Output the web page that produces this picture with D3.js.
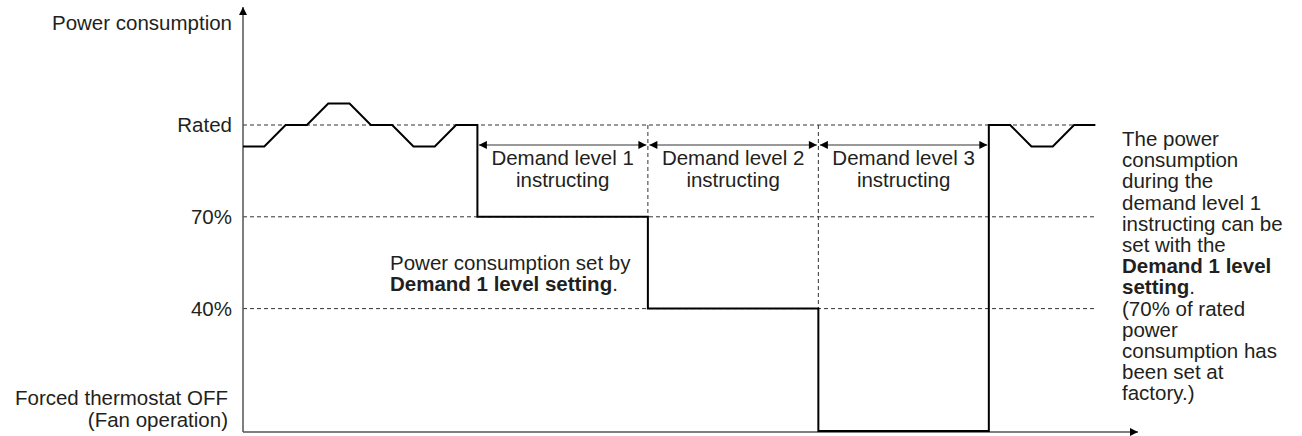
<!DOCTYPE html>
<html>
<head>
<meta charset="utf-8">
<script src="https://cdn.jsdelivr.net/npm/d3@7"></script>
<style>
  body { margin: 0; background: #fff; }
  svg text { font-family: "Liberation Sans", Arial, sans-serif; font-size: 20.5px; fill: #231f20; }
</style>
</head>
<body>
<div class="chart"></div>
<script>
// Chart size
var svgWidth = 1302;
var svgHeight = 436;

// Power consumption curve (time in arbitrary steps, power in % of rated)
var times = [0, 1, 2, 3, 4, 5, 6, 7, 8, 9, 10, 11, 11, 19, 19, 27, 27, 35, 35, 36, 37, 38, 39, 40];
var power = [93, 93, 100, 100, 107, 107, 100, 100, 93, 93, 100, 100, 70, 70, 40, 40, 0, 0, 100, 100, 93, 93, 100, 100];

// Level labels on the y axis
var levelLabels = ["Rated", "70%", "40%"];
var levelValues = [100, 70, 40];

// Demand periods
var demandStarts = [11, 19, 27];
var demandEnds = [19, 27, 35];
var demandLabels = ["Demand level 1", "Demand level 2", "Demand level 3"];

// Right-side note, one entry per line
var noteLines = [
    [["The power", false]],
    [["consumption", false]],
    [["during the", false]],
    [["demand level 1", false]],
    [["instructing can be", false]],
    [["set with the", false]],
    [["Demand 1 level", true]],
    [["setting", true], [".", false]],
    [["(70% of rated", false]],
    [["power", false]],
    [["consumption has", false]],
    [["been set at", false]],
    [["factory.)", false]]
];

var svg = d3.select(".chart")
    .append("svg")
    .attr("width", svgWidth)
    .attr("height", svgHeight);

// Scales
var x = d3.scaleLinear().domain([0, 42]).range([243, 1138]);
var y = d3.scaleLinear().domain([0, 100]).range([431, 125]);

var lineEnd = 40;

// Dashed level lines
svg.selectAll(".level")
    .data(levelValues)
    .enter()
    .append("line")
    .attr("x1", x(0))
    .attr("x2", x(lineEnd))
    .attr("y1", d => y(d))
    .attr("y2", d => y(d))
    .attr("stroke", "#333")
    .attr("stroke-width", 1)
    .attr("stroke-dasharray", "4,3");

// Dashed vertical separators between demand periods
var sepTimes = [19, 27];
var sepBottoms = [70, 40];
svg.selectAll(".sep")
    .data(sepTimes)
    .enter()
    .append("line")
    .attr("x1", d => x(d))
    .attr("x2", d => x(d))
    .attr("y1", y(100))
    .attr("y2", (d, i) => y(sepBottoms[i]))
    .attr("stroke", "#333")
    .attr("stroke-width", 1)
    .attr("stroke-dasharray", "4,3");

// Arrow markers
var defs = svg.append("defs");
defs.append("marker")
    .attr("id", "head")
    .attr("viewBox", "0 0 10 10")
    .attr("refX", 10)
    .attr("refY", 5)
    .attr("markerWidth", 9)
    .attr("markerHeight", 8)
    .attr("markerUnits", "userSpaceOnUse")
    .attr("orient", "auto-start-reverse")
    .append("path")
    .attr("d", "M0,0L10,5L0,10Z")
    .attr("fill", "#000");

// Axes
svg.append("line")
    .attr("x1", x(0)).attr("x2", x(0))
    .attr("y1", y(0) + 1).attr("y2", 7)
    .attr("stroke", "#555")
    .attr("stroke-width", 1.5)
    .attr("marker-end", "url(#head)");

svg.append("line")
    .attr("x1", x(0)).attr("x2", x(42))
    .attr("y1", y(0) + 1).attr("y2", y(0) + 1)
    .attr("stroke", "#555")
    .attr("stroke-width", 1.5)
    .attr("marker-end", "url(#head)");

// Power curve
var line = d3.line()
    .x(d => x(d[0]))
    .y(d => y(d[1]));

svg.append("path")
    .datum(d3.zip(times, power))
    .attr("d", line)
    .attr("fill", "none")
    .attr("stroke", "#000")
    .attr("stroke-width", 2);

// Demand period arrows and labels
var arrowY = y(93) - 1.5;
svg.selectAll(".darrow")
    .data(demandStarts)
    .enter()
    .append("line")
    .attr("x1", d => x(d) + 1.5)
    .attr("x2", (d, i) => x(demandEnds[i]) - 1.5)
    .attr("y1", arrowY)
    .attr("y2", arrowY)
    .attr("stroke", "#777")
    .attr("stroke-width", 1.5)
    .attr("marker-start", "url(#head)")
    .attr("marker-end", "url(#head)");

var dlab = svg.selectAll(".dlab")
    .data(demandStarts)
    .enter()
    .append("text")
    .attr("text-anchor", "middle");
dlab.append("tspan")
    .attr("x", (d, i) => (x(d) + x(demandEnds[i])) / 2)
    .attr("y", 165)
    .text((d, i) => demandLabels[i]);
dlab.append("tspan")
    .attr("x", (d, i) => (x(d) + x(demandEnds[i])) / 2)
    .attr("y", 187)
    .text("instructing");

// Y axis labels
svg.append("text")
    .attr("x", 232)
    .attr("y", 30)
    .attr("text-anchor", "end")
    .text("Power consumption");

svg.selectAll(".ylab")
    .data(levelValues)
    .enter()
    .append("text")
    .attr("x", 232)
    .attr("y", d => y(d) + 7)
    .attr("text-anchor", "end")
    .text((d, i) => levelLabels[i]);

var offLab = svg.append("text").attr("text-anchor", "end");
offLab.append("tspan").attr("x", 228).attr("y", 405).text("Forced thermostat OFF");
offLab.append("tspan").attr("x", 228).attr("y", 427).text("(Fan operation)");

// Annotation below the demand level 1 step
var ann = svg.append("text");
ann.append("tspan").attr("x", 390).attr("y", 270).text("Power consumption set by");
var ann2 = ann.append("tspan").attr("x", 390).attr("y", 291);
ann2.append("tspan").attr("font-weight", "bold").text("Demand 1 level setting");
ann2.append("tspan").text(".");

// Right-side note
var note = svg.append("text");
noteLines.forEach(function(parts, i) {
    var row = note.append("tspan").attr("x", 1122).attr("y", 146 + i * 21.2);
    parts.forEach(function(p) {
        row.append("tspan")
            .attr("font-weight", p[1] ? "bold" : null)
            .text(p[0]);
    });
});
</script>
</body>
</html>
